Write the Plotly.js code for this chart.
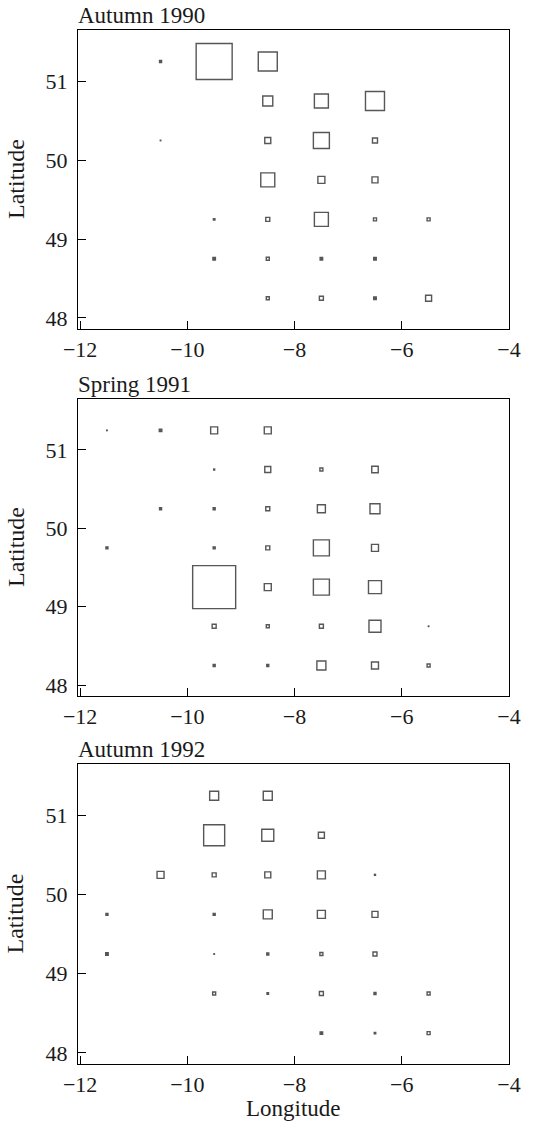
<!DOCTYPE html>
<html>
<head>
<meta charset="utf-8">
<script src="https://cdn.plot.ly/plotly-3.0.1.min.js"></script>
<style>html,body{margin:0;padding:0;background:#fff;}#plot{width:553px;height:1121px;}</style>
</head>
<body>
<div id="plot"></div>
<script>
// Panel titles
const panelTitles = ["Autumn 1990", "Spring 1991", "Autumn 1992"];

// Autumn 1990
const lonA90 = [-10.5,-9.5,-8.5, -8.5,-7.5,-6.5, -10.5,-8.5,-7.5,-6.5, -8.5,-7.5,-6.5, -9.5,-8.5,-7.5,-6.5,-5.5, -9.5,-8.5,-7.5,-6.5, -8.5,-7.5,-6.5,-5.5];
const latA90 = [51.25,51.25,51.25, 50.75,50.75,50.75, 50.25,50.25,50.25,50.25, 49.75,49.75,49.75, 49.25,49.25,49.25,49.25,49.25, 48.75,48.75,48.75,48.75, 48.25,48.25,48.25,48.25];
const valA90 = [2,36,19, 10,14,19, 0.5,6,16,5, 14,7,6, 1.5,4,14,3,3, 2.5,3,2.5,2.5, 3,4,2.5,6];

// Spring 1991
const lonS91 = [-11.5,-10.5,-9.5,-8.5, -9.5,-8.5,-7.5,-6.5, -10.5,-9.5,-8.5,-7.5,-6.5, -11.5,-9.5,-8.5,-7.5,-6.5, -9.5,-8.5,-7.5,-6.5, -9.5,-8.5,-7.5,-6.5,-5.5, -9.5,-8.5,-7.5,-6.5,-5.5];
const latS91 = [51.25,51.25,51.25,51.25, 50.75,50.75,50.75,50.75, 50.25,50.25,50.25,50.25,50.25, 49.75,49.75,49.75,49.75,49.75, 49.25,49.25,49.25,49.25, 48.75,48.75,48.75,48.75,48.75, 48.25,48.25,48.25,48.25,48.25];
const valS91 = [0.5,2.5,7,7, 1,6,3,6.5, 2,2,4,8,10, 2,2,4,16,7, 43,7,16,13, 4,3,4,12,0.5, 2,2,9,7,3];

// Autumn 1992
const lonA92 = [-9.5,-8.5, -9.5,-8.5,-7.5, -10.5,-9.5,-8.5,-7.5,-6.5, -11.5,-9.5,-8.5,-7.5,-6.5, -11.5,-9.5,-8.5,-7.5,-6.5, -9.5,-8.5,-7.5,-6.5,-5.5, -7.5,-6.5,-5.5];
const latA92 = [51.25,51.25, 50.75,50.75,50.75, 50.25,50.25,50.25,50.25,50.25, 49.75,49.75,49.75,49.75,49.75, 49.25,49.25,49.25,49.25,49.25, 48.75,48.75,48.75,48.75,48.75, 48.25,48.25,48.25];
const valA92 = [9,9, 21,12,6, 7,4,6,8,1, 2,2,9,8,6, 2.5,0.5,2,3,4, 3,1.5,4,2,3, 2.5,1.5,3];

const xTickVals = [-12,-10,-8,-6,-4];
const yTickVals = [48,49,50,51];

const FONT = "Liberation Serif, Times New Roman, serif";
const panels = [[lonA90,latA90,valA90],[lonS91,latS91,valS91],[lonA92,latA92,valA92]];
const domains = [[0.7108,1.0],[0.3559,0.6431],[0.0,0.2901]];

const traces = panels.map((p,i)=>({
  type:'scatter', mode:'markers',
  x:p[0], y:p[1],
  xaxis: i===0?'x':'x'+(i+1), yaxis: i===0?'y':'y'+(i+1),
  marker:{symbol:'square', size:p[2],
          color:p[2].map(v=> v<=2.5 ? '#111' : 'rgba(255,255,255,0)'),
          line:{width:1.4,color:'#111'}},
  hoverinfo:'skip', showlegend:false
}));

const layout = {
  width:553, height:1121,
  margin:{l:78,r:44,t:30,b:57},
  paper_bgcolor:'#fff', plot_bgcolor:'#fff',
  font:{family:FONT, size:22, color:'#1a1a1a'},
  showlegend:false,
  annotations:[]
};
for(let i=0;i<3;i++){
  const sx = i===0?'':String(i+1);
  layout['xaxis'+sx] = {
    domain:[0,1], anchor:'y'+sx, range:[-12.04,-4],
    tickvals:xTickVals, ticks:'inside', ticklen:8, tickcolor:'#000',
    showgrid:false, zeroline:false, showline:true, linecolor:'#000', linewidth:1.2, mirror:true,
    tickfont:{family:FONT,size:22,color:'#1a1a1a'}, ticklabelstandoff:0
  };
  layout['yaxis'+sx] = {
    domain:domains[i], anchor:'x'+sx, range:[47.86,51.65],
    tickvals:yTickVals, ticks:'inside', ticklen:8, tickcolor:'#000',
    showgrid:false, zeroline:false, showline:true, linecolor:'#000', linewidth:1.2, mirror:true,
    tickfont:{family:FONT,size:22,color:'#1a1a1a'}, ticklabelstandoff:5
  };
  layout.annotations.push({
    text:panelTitles[i], xref:'paper', yref:'paper', x:-0.005, y:domains[i][1],
    xanchor:'left', yanchor:'bottom', yshift:0, showarrow:false,
    font:{family:FONT,size:23,color:'#1a1a1a'}
  });
  layout.annotations.push({
    text:'Latitude', xref:'paper', yref:'paper', x:-0.145, y:(domains[i][0]+domains[i][1])/2,
    xanchor:'center', yanchor:'middle', textangle:-90, showarrow:false,
    font:{family:FONT,size:24,color:'#1a1a1a'}
  });
}
layout.annotations.push({
  text:'Longitude', xref:'paper', yref:'paper', x:0.5, y:0,
  xanchor:'center', yanchor:'middle', yshift:-44, showarrow:false,
  font:{family:FONT,size:23,color:'#1a1a1a'}
});

Plotly.newPlot('plot', traces, layout, {staticPlot:true, displayModeBar:false});
</script>
</body>
</html>
